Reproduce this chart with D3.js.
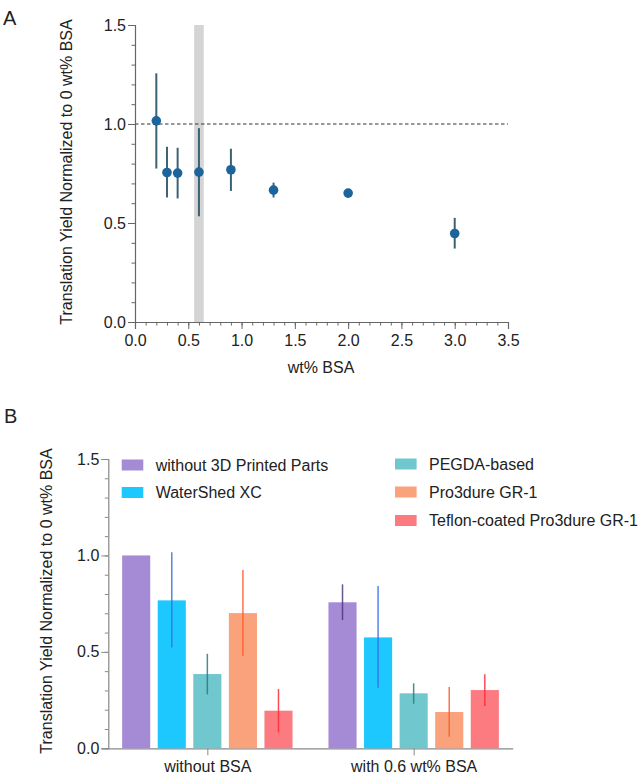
<!DOCTYPE html>
<html>
<head>
<meta charset="utf-8">
<script src="https://cdn.jsdelivr.net/npm/d3@7"></script>
<style>
  body { margin: 0; background: #fff; }
  svg { display: block; font-family: "Liberation Sans", Arial, Helvetica, sans-serif; }
</style>
</head>
<body>
<svg id="chart" width="643" height="776"></svg>
<script>
// ---------- Panel A data ----------
const bsaWt = [0.2, 0.3, 0.4, 0.6, 0.9, 1.3, 2.0, 3.0];
const yieldMean = [1.016, 0.755, 0.752, 0.757, 0.769, 0.666, 0.651, 0.447];
const yieldLow = [0.775, 0.629, 0.624, 0.534, 0.662, 0.629, 0.640, 0.371];
const yieldHigh = [1.256, 0.885, 0.880, 0.979, 0.875, 0.704, 0.662, 0.526];
const xTicksA = [0, 0.5, 1.0, 1.5, 2.0, 2.5, 3.0, 3.5];
const yTicksA = [0, 0.5, 1.0, 1.5];
const bandRange = [0.555, 0.645];

// ---------- Panel B data ----------
const groups = ["without BSA", "with 0.6 wt% BSA"];
const seriesNames = ["without 3D Printed Parts", "WaterShed XC", "PEGDA-based", "Pro3dure GR-1", "Teflon-coated Pro3dure GR-1"];
const barMeans = [
  [1.000, 0.767, 0.385, 0.701, 0.195],
  [0.757, 0.575, 0.285, 0.188, 0.302]
];
const barLow = [
  [null, 0.522, 0.280, 0.480, 0.083],
  [0.665, 0.314, 0.231, 0.060, 0.219]
];
const barHigh = [
  [null, 1.016, 0.490, 0.924, 0.307],
  [0.850, 0.841, 0.337, 0.318, 0.384]
];
const barColors = ["#a58bd5", "#1dc8fe", "#70c7cd", "#f9a27c", "#fb7b81"];
const errColors = ["#4a3b7e", "#3a6fe8", "#2c7a80", "#ff5a2a", "#ff2a3c"];
const yTicksB = [0, 0.5, 1.0, 1.5];

const svg = d3.select("#chart");
const yLabel = "Translation Yield Normalized to 0 wt% BSA";

// ================= Panel A =================
const xA = d3.scaleLinear().domain([0, 3.5]).range([135, 508]);
const yA = d3.scaleLinear().domain([0, 1.5]).range([322, 25]);
const gA = svg.append("g");

gA.append("text").attr("x", 3).attr("y", 25).attr("font-size", 20).attr("fill", "#222").text("A");

// gray band
gA.append("rect")
  .attr("x", xA(bandRange[0])).attr("width", xA(bandRange[1]) - xA(bandRange[0]))
  .attr("y", yA(1.5)).attr("height", yA(0) - yA(1.5))
  .attr("fill", "#d4d4d4");

// dashed line at 1.0
gA.append("line")
  .attr("x1", xA(0)).attr("x2", xA(3.5)).attr("y1", yA(1)).attr("y2", yA(1))
  .attr("stroke", "#333").attr("stroke-width", 1.2).attr("stroke-dasharray", "3.5,2.5");

// axes (minor)
gA.append("g").attr("transform", `translate(${xA(0)},0)`)
  .call(d3.axisLeft(yA).tickValues(d3.range(0, 1.501, 0.1)).tickSize(3.5).tickFormat(""))
  .call(g => g.select(".domain").remove())
  .selectAll("line").attr("stroke", "#666");
gA.append("g").attr("transform", `translate(0,${yA(0)})`)
  .call(d3.axisBottom(xA).tickValues(d3.range(0, 3.501, 0.1)).tickSize(3.5).tickFormat(""))
  .call(g => g.select(".domain").remove())
  .selectAll("line").attr("stroke", "#666");
// axes (major)
const axYA = gA.append("g").attr("transform", `translate(${xA(0)},0)`)
  .call(d3.axisLeft(yA).tickValues(yTicksA).tickSize(7).tickPadding(2).tickFormat(d3.format(".1f")));
const axXA = gA.append("g").attr("transform", `translate(0,${yA(0)})`)
  .call(d3.axisBottom(xA).tickValues(xTicksA).tickSize(7).tickPadding(6).tickFormat(d3.format(".1f")));
[axYA, axXA].forEach(a => {
  a.select(".domain").attr("stroke", "#666").attr("stroke-width", 1.2);
  a.selectAll(".tick line").attr("stroke", "#666");
  a.selectAll(".tick text").attr("font-size", 16).attr("fill", "#222").attr("font-family", null);
});

// error bars
gA.append("g").selectAll("line").data(bsaWt).join("line")
  .attr("x1", d => xA(d)).attr("x2", d => xA(d))
  .attr("y1", (d, i) => yA(yieldLow[i])).attr("y2", (d, i) => yA(yieldHigh[i]))
  .attr("stroke", "#3a6272").attr("stroke-width", 2);
// points
gA.append("g").selectAll("circle").data(bsaWt).join("circle")
  .attr("cx", d => xA(d)).attr("cy", (d, i) => yA(yieldMean[i]))
  .attr("r", 4.8).attr("fill", "#1b649c");

gA.append("text").attr("x", 321).attr("y", 373).attr("text-anchor", "middle")
  .attr("font-size", 16).attr("fill", "#222").text("wt% BSA");
gA.append("text").attr("transform", "translate(72,172) rotate(-90)").attr("text-anchor", "middle")
  .attr("font-size", 16).attr("fill", "#222").text(yLabel);

// ================= Panel B =================
const yB = d3.scaleLinear().domain([0, 1.5]).range([748.3, 459]);
const x0 = d3.scalePoint().domain(groups).range([108.3, 512.7]).padding(0.48);
const x1 = d3.scaleBand().domain(seriesNames).range([-85.2, 85.2]).paddingInner(0.21);
const gB = svg.append("g");

gB.append("text").attr("x", 4).attr("y", 423).attr("font-size", 20).attr("fill", "#222").text("B");

gB.append("g").attr("transform", `translate(108.3,0)`)
  .call(d3.axisLeft(yB).tickValues(d3.range(0, 1.501, 0.1)).tickSize(3.5).tickFormat(""))
  .call(g => g.select(".domain").remove())
  .selectAll("line").attr("stroke", "#888");
const axYB = gB.append("g").attr("transform", `translate(108.3,0)`)
  .call(d3.axisLeft(yB).tickValues(yTicksB).tickSize(7).tickPadding(2).tickFormat(d3.format(".1f")));
const axXB = gB.append("g").attr("transform", `translate(0,${yB(0)})`)
  .call(d3.axisBottom(x0).tickSize(7).tickSizeOuter(0).tickPadding(5));
[axYB, axXB].forEach(a => {
  a.select(".domain").attr("stroke", "#888").attr("stroke-width", 1.2);
  a.selectAll(".tick line").attr("stroke", "#888");
  a.selectAll(".tick text").attr("font-size", 16).attr("fill", "#222").attr("font-family", null);
});

// bars
groups.forEach((grp, gi) => {
  const gg = gB.append("g").attr("transform", `translate(${x0(grp)},0)`);
  seriesNames.forEach((s, si) => {
    gg.append("rect")
      .attr("x", x1(s)).attr("width", x1.bandwidth())
      .attr("y", yB(barMeans[gi][si])).attr("height", yB(0) - yB(barMeans[gi][si]))
      .attr("fill", barColors[si]);
  });
  seriesNames.forEach((s, si) => {
    if (barLow[gi][si] == null) return;
    const cx = x1(s) + x1.bandwidth() / 2;
    gg.append("line")
      .attr("x1", cx).attr("x2", cx)
      .attr("y1", yB(barLow[gi][si])).attr("y2", yB(barHigh[gi][si]))
      .attr("stroke", errColors[si]).attr("stroke-width", 1.5).attr("opacity", 0.85);
  });
});

// legend
const legPos = [[121.7, 465], [121.7, 492.5], [395, 464], [395, 492], [395, 520.5]];
seriesNames.forEach((s, si) => {
  const [lx, ly] = legPos[si];
  gB.append("rect").attr("x", lx).attr("y", ly - 5.5).attr("width", 21.6).attr("height", 11)
    .attr("fill", barColors[si]);
  gB.append("text").attr("x", lx + 34).attr("y", ly + 5.5)
    .attr("font-size", 16).attr("fill", "#222").text(s);
});

gB.append("text").attr("transform", "translate(52,601) rotate(-90)").attr("text-anchor", "middle")
  .attr("font-size", 16).attr("fill", "#222").text(yLabel);
</script>
</body>
</html>
